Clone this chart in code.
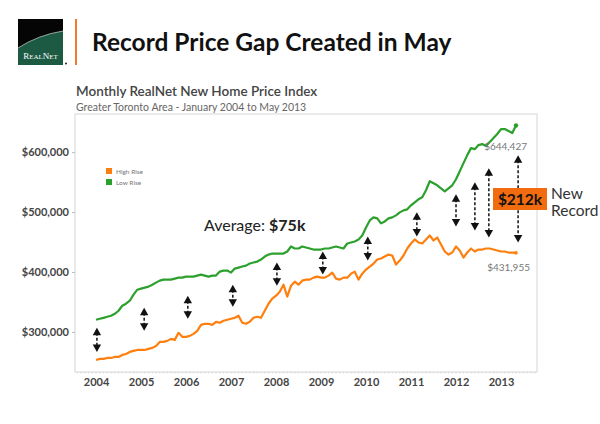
<!DOCTYPE html>
<html>
<head>
<meta charset="utf-8">
<script src="https://cdn.jsdelivr.net/npm/d3@7"></script>
<style>
  body { margin: 0; background: #fff; }
  svg { font-family: Lato, "Open Sans", sans-serif; }
</style>
</head>
<body>
<div id="chart"></div>
<script>
// DATA (prices in $ thousands, monthly Jan 2004 - May 2013) //
const firstYear = 2004;
const yearTicks = [2004, 2005, 2006, 2007, 2008, 2009, 2010, 2011, 2012, 2013];
const priceTicks = [300, 400, 500, 600];
const seriesNames = ["High Rise", "Low Rise"];

const highRise = [
  253.3, 255.0, 255.0, 256.6, 256.6, 258.3, 258.3, 261.7, 263.3, 266.7, 268.4, 270.0,
  270.0, 270.0, 271.7, 273.4, 276.7, 283.4, 283.4, 285.1, 288.5, 286.8, 298.5, 291.8,
  291.8, 293.5, 296.8, 301.9, 311.9, 313.6, 313.6, 311.9, 316.9, 315.3, 318.6, 320.3,
  322.0, 323.6, 327.0, 315.3, 313.6, 316.9, 323.6, 325.3, 323.6, 335.4, 347.1, 355.5,
  360.5, 367.2, 378.9, 358.8, 377.2, 383.9, 378.9, 385.6, 387.3, 387.3, 390.6, 392.3,
  390.6, 390.6, 394.0, 399.0, 388.9, 387.3, 390.6, 390.6, 397.3, 400.7, 387.3, 397.3,
  404.0, 409.1, 414.1, 420.8, 422.5, 425.8, 429.1, 427.5, 412.4, 419.1, 427.5, 439.2,
  447.6, 454.3, 449.3, 447.6, 454.3, 461.0, 452.6, 457.6, 445.9, 434.2, 429.1, 432.5,
  442.6, 435.9, 424.1, 432.5, 439.2, 434.2, 437.5, 437.5, 439.2, 439.2, 437.5, 435.9,
  434.2, 434.2, 432.5, 432.5, 431.955,
];
const lowRise = [
  320.3, 322.0, 323.6, 325.3, 327.0, 330.3, 335.4, 343.7, 347.1, 352.1, 362.2, 370.5,
  372.2, 373.9, 375.6, 378.9, 382.3, 385.6, 387.3, 387.3, 387.3, 388.9, 390.6, 390.6,
  392.3, 392.3, 392.3, 394.0, 395.7, 394.0, 392.3, 394.0, 394.0, 400.7, 402.4, 402.4,
  399.0, 405.7, 407.4, 409.1, 410.7, 414.1, 415.8, 417.4, 420.8, 425.8, 429.1, 430.8,
  430.8, 430.8, 430.8, 434.2, 442.6, 439.2, 439.2, 442.6, 440.9, 439.2, 437.5, 437.5,
  437.5, 439.2, 439.2, 440.9, 442.6, 440.9, 439.2, 447.6, 449.3, 450.9, 454.3, 461.0,
  474.4, 486.1, 491.1, 489.5, 481.1, 484.4, 489.5, 491.1, 494.5, 499.5, 502.8, 504.5,
  511.2, 516.3, 521.3, 524.6, 536.4, 551.4, 548.1, 544.7, 539.7, 534.7, 539.7, 544.7,
  554.8, 568.2, 581.6, 595.0, 606.7, 605.0, 611.7, 613.4, 610.1, 616.8, 623.5, 630.2,
  638.5, 638.5, 635.2, 631.8, 644.427,
];

// gap arrows: [year position, top value, bottom value]
const gapArrows = [
  [2004.02, 306.9, 266.7],
  [2005.07, 340.4, 301.9],
  [2006.04, 360.5, 321.9],
  [2007.04, 378.9, 342.0],
  [2008.02, 415.8, 377.2],
  [2009.04, 434.2, 395.7],
  [2010.04, 459.3, 419.1],
  [2011.13, 499.5, 459.3],
  [2012.0, 529.7, 476.1],
  [2012.42, 549.8, 469.4],
  [2012.73, 573.2, 457.6],
  [2013.38, 594.9, 449.3],
];

const colors = { high: "#ff7f0e", low: "#2ca02c" };

const W = 600, H = 424;
const frame = { left: 75, right: 537, top: 114, bottom: 372 };

const svg = d3
  .select("#chart")
  .append("svg")
  .attr("width", W)
  .attr("height", H);

// LOGO + HEADER //
const logo = svg.append("g").attr("transform", "translate(18,19)");
logo.append("rect").attr("width", 45).attr("height", 46).attr("fill", "#050505");
logo
  .append("path")
  .attr("d", "M0,29 Q20,16 45,12 L45,46 L0,46 Z")
  .attr("fill", "#1d5a44");
logo
  .append("path")
  .attr("d", "M0,29 Q20,16 45,12")
  .attr("fill", "none")
  .attr("stroke", "#cfd8d2")
  .attr("stroke-width", 0.7);
const logoText = logo
  .append("text")
  .attr("x", 22.5)
  .attr("y", 40)
  .attr("text-anchor", "middle")
  .attr("fill", "#fff")
  .style("font-family", "'Liberation Serif', 'DejaVu Serif', serif");
logoText.append("tspan").attr("font-size", 9).text("R");
logoText.append("tspan").attr("font-size", 7).text("EAL");
logoText.append("tspan").attr("font-size", 9).text("N");
logoText.append("tspan").attr("font-size", 7).text("ET");
svg.append("circle").attr("cx", 66).attr("cy", 63.5).attr("r", 1).attr("fill", "#222");

svg
  .append("line")
  .attr("x1", 76)
  .attr("x2", 76)
  .attr("y1", 19)
  .attr("y2", 65)
  .attr("stroke", "#f07c2c")
  .attr("stroke-width", 2);

svg
  .append("text")
  .attr("x", 92)
  .attr("y", 51)
  .attr("font-size", 24.5)
  .attr("font-weight", 700)
  .attr("fill", "#111")
  .text("Record Price Gap Created in May");

svg
  .append("text")
  .attr("x", 76)
  .attr("y", 96)
  .attr("font-size", 13.5)
  .attr("font-weight", 600)
  .attr("fill", "#444")
  .text("Monthly RealNet New Home Price Index");

svg
  .append("text")
  .attr("x", 76)
  .attr("y", 110.5)
  .attr("font-size", 10.5)
  .attr("fill", "#666")
  .text("Greater Toronto Area - January 2004 to May 2013");

// SCALES //
const xScale = d3
  .scaleLinear()
  .domain([2003.533, 2013.8])
  .range([frame.left, frame.right]);

const yScale = d3
  .scaleLinear()
  .domain([233.2, 663.6])
  .range([frame.bottom, frame.top]);

const t = (i) => firstYear + i / 12;

// frame
svg
  .append("rect")
  .attr("x", frame.left)
  .attr("y", frame.top)
  .attr("width", frame.right - frame.left)
  .attr("height", frame.bottom - frame.top)
  .attr("fill", "none")
  .attr("stroke", "#dcdcdc")
  .attr("stroke-width", 1.2);

// monthly minor ticks along bottom
svg
  .append("g")
  .selectAll("line")
  .data(d3.range(-5, 118))
  .enter()
  .append("line")
  .attr("x1", (i) => xScale(t(i)))
  .attr("x2", (i) => xScale(t(i)))
  .attr("y1", frame.bottom)
  .attr("y2", frame.bottom + 1.5)
  .attr("stroke", "#d4d4d4")
  .attr("stroke-width", 0.8);

// Y axis
const yAxis = svg
  .append("g")
  .attr("transform", `translate(${frame.left},0)`)
  .call(
    d3
      .axisLeft(yScale)
      .tickValues(priceTicks)
      .tickSize(3)
      .tickPadding(3)
      .tickFormat((d) => "$" + d3.format(",")(d * 1000))
  );
yAxis.select(".domain").remove();
yAxis.selectAll("line").attr("stroke", "#bbb");
yAxis
  .selectAll("text")
  .attr("font-size", 11)
  .attr("font-weight", 700)
  .attr("fill", "#444")
  .style("font-family", "Lato, sans-serif");

// X axis
const xAxis = svg
  .append("g")
  .attr("transform", `translate(0,${frame.bottom})`)
  .call(
    d3
      .axisBottom(xScale)
      .tickValues(yearTicks)
      .tickSize(0)
      .tickPadding(6)
      .tickFormat(d3.format("d"))
  );
xAxis.select(".domain").remove();
xAxis
  .selectAll("text")
  .attr("font-size", 11)
  .attr("font-weight", 700)
  .attr("fill", "#444")
  .style("font-family", "Lato, sans-serif");

// LINES //
const line = d3
  .line()
  .x((d, i) => xScale(t(i)))
  .y((d) => yScale(d));

svg
  .append("path")
  .datum(lowRise)
  .attr("d", line)
  .attr("fill", "none")
  .attr("stroke", colors.low)
  .attr("stroke-width", 2.2)
  .attr("stroke-linejoin", "round");

svg
  .append("path")
  .datum(highRise)
  .attr("d", line)
  .attr("fill", "none")
  .attr("stroke", colors.high)
  .attr("stroke-width", 2.2)
  .attr("stroke-linejoin", "round");

const lastI = lowRise.length - 1;
svg
  .append("circle")
  .attr("cx", xScale(t(lastI)))
  .attr("cy", yScale(lowRise[lastI]))
  .attr("r", 2.2)
  .attr("fill", colors.low);
svg
  .append("circle")
  .attr("cx", xScale(t(lastI)))
  .attr("cy", yScale(highRise[lastI]))
  .attr("r", 1.8)
  .attr("fill", colors.high);

// end labels
const fmtDollar = (v) => "$" + d3.format(",")(Math.round(v * 1000));
svg
  .append("text")
  .attr("x", xScale(t(lastI)) + 11)
  .attr("y", yScale(lowRise[lastI]) + 25)
  .attr("text-anchor", "end")
  .attr("font-size", 10)
  .attr("fill", "#777")
  .text(fmtDollar(lowRise[lastI]));
svg
  .append("text")
  .attr("x", xScale(t(lastI)) + 14)
  .attr("y", yScale(highRise[lastI]) + 18)
  .attr("text-anchor", "end")
  .attr("font-size", 10)
  .attr("fill", "#777")
  .text(fmtDollar(highRise[lastI]));

// LEGEND //
const legend = svg.append("g").attr("transform", "translate(106,168)");
seriesNames.forEach((name, i) => {
  legend
    .append("rect")
    .attr("x", 0)
    .attr("y", i * 11)
    .attr("width", 6)
    .attr("height", 6)
    .attr("fill", i === 0 ? colors.high : colors.low);
  legend
    .append("text")
    .attr("x", 10)
    .attr("y", i * 11 + 5.5)
    .attr("font-size", 6.5)
    .attr("fill", "#777")
    .text(name);
});

// GAP ARROWS //
const arrows = svg.append("g");
gapArrows.forEach(([yr, top, bottom]) => {
  const x = xScale(yr);
  const y1 = yScale(top);
  const y2 = yScale(bottom);
  arrows
    .append("line")
    .attr("x1", x)
    .attr("x2", x)
    .attr("y1", y1 + 5)
    .attr("y2", y2 - 5)
    .attr("stroke", "#111")
    .attr("stroke-width", 1.5)
    .attr("stroke-dasharray", "3,2");
  arrows
    .append("path")
    .attr("d", `M${x},${y1} L${x - 4.2},${y1 + 7.5} L${x + 4.2},${y1 + 7.5} Z`)
    .attr("fill", "#111");
  arrows
    .append("path")
    .attr("d", `M${x},${y2} L${x - 4.2},${y2 - 7.5} L${x + 4.2},${y2 - 7.5} Z`)
    .attr("fill", "#111");
});

// ANNOTATIONS //
const avg = svg
  .append("text")
  .attr("x", 204)
  .attr("y", 231)
  .attr("font-size", 16)
  .attr("fill", "#222");
avg.append("tspan").text("Average: ");
avg.append("tspan").attr("font-weight", 700).text("$75k");

svg
  .append("rect")
  .attr("x", 493)
  .attr("y", 188)
  .attr("width", 54)
  .attr("height", 22)
  .attr("fill", "#f26b0f");
svg
  .append("text")
  .attr("x", 520)
  .attr("y", 205)
  .attr("text-anchor", "middle")
  .attr("font-size", 15.5)
  .attr("font-weight", 700)
  .attr("fill", "#111")
  .text("$212k");

svg
  .append("text")
  .attr("x", 551)
  .attr("y", 199)
  .attr("font-size", 15.5)
  .attr("fill", "#333")
  .text("New");
svg
  .append("text")
  .attr("x", 551)
  .attr("y", 216)
  .attr("font-size", 15.5)
  .attr("fill", "#333")
  .text("Record");
</script>
</body>
</html>
